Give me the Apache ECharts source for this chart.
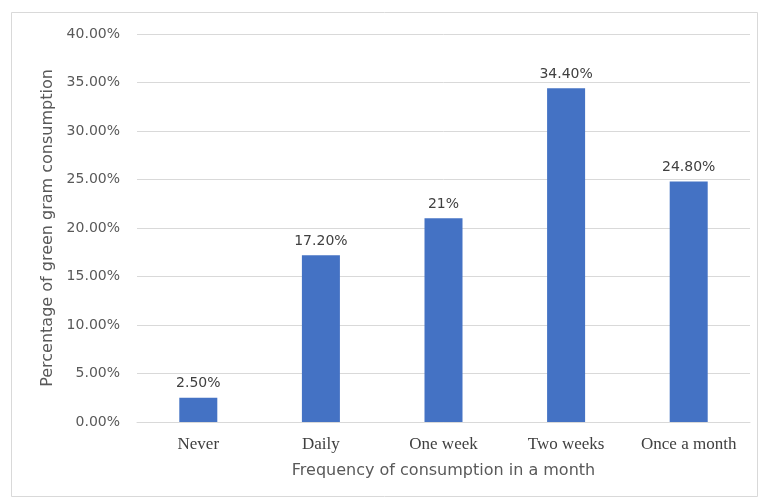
<!DOCTYPE html>
<html>
<head>
<meta charset="utf-8">
<script src="https://cdn.jsdelivr.net/npm/echarts@6/dist/echarts.min.js"></script>
<style>
  html, body { margin: 0; padding: 0; background: #ffffff; }
  #chart { width: 765px; height: 502px; }
</style>
</head>
<body>
<div id="chart"></div>
<script>
// Frequency of green gram consumption in a month
const categories = ['Never', 'Daily', 'One week', 'Two weeks', 'Once a month'];
const percentages = [2.5, 17.2, 21, 34.4, 24.8];
const yTicks = { min: 0, max: 40, interval: 5 };

const chart = echarts.init(document.getElementById('chart'), null, { renderer: 'canvas' });

function pctLabel(v) {
  return Number.isInteger(v) ? v + '%' : v.toFixed(2) + '%';
}

const sans = 'DejaVu Sans, sans-serif';

chart.setOption({
  backgroundColor: '#ffffff',
  animation: false,
  graphic: [{
    type: 'rect',
    shape: { x: 11.5, y: 12.5, width: 746, height: 484 },
    style: { fill: 'none', stroke: '#d9d9d9', lineWidth: 1 },
    silent: true
  }],
  grid: { left: 137, right: 15, top: 34, bottom: 80 },
  xAxis: {
    type: 'category',
    data: categories,
    axisLine: { show: true, lineStyle: { color: '#d9d9d9', width: 1 } },
    axisTick: { show: false },
    axisLabel: {
      interval: 0,
      color: '#404040',
      fontFamily: 'Liberation Serif, Times New Roman, serif',
      fontSize: 17,
      margin: 14
    },
    name: 'Frequency of consumption in a month',
    nameLocation: 'middle',
    nameGap: 41,
    nameTextStyle: { color: '#595959', fontFamily: sans, fontSize: 16 }
  },
  yAxis: {
    type: 'value',
    min: yTicks.min,
    max: yTicks.max,
    interval: yTicks.interval,
    axisLine: { show: false },
    axisTick: { show: false },
    splitLine: { lineStyle: { color: '#d9d9d9', width: 1 } },
    axisLabel: {
      color: '#595959',
      fontFamily: sans,
      fontSize: 14,
      margin: 17,
      formatter: v => v.toFixed(2) + '%'
    },
    name: 'Percentage of green gram consumption',
    nameLocation: 'middle',
    nameGap: 79,
    nameRotate: 90,
    nameTextStyle: { color: '#595959', fontFamily: sans, fontSize: 16 }
  },
  series: [{
    type: 'bar',
    data: percentages,
    barWidth: '31%',
    itemStyle: { color: '#4472c4' },
    label: {
      show: true,
      position: 'top',
      distance: 7,
      color: '#404040',
      fontFamily: sans,
      fontSize: 14,
      formatter: p => pctLabel(p.value)
    }
  }]
});
</script>
</body>
</html>
